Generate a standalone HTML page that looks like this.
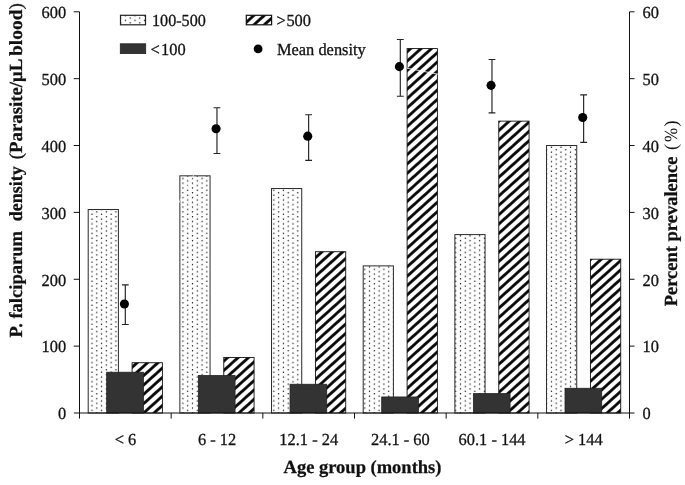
<!DOCTYPE html>
<html><head><meta charset="utf-8"><title>chart</title>
<style>
html,body{margin:0;padding:0;background:#fff;}
svg{display:block;will-change:transform;}
text{font-family:"Liberation Serif",serif;fill:#111;text-rendering:geometricPrecision;}
.n{font-size:16.4px;stroke:#111;stroke-width:0.3px;}
.b{font-size:18.5px;font-weight:bold;stroke:#111;stroke-width:0.25px;}
.r{font-size:18.5px;}
</style></head><body>
<svg width="685" height="485" viewBox="0 0 685 485">
<defs>
<pattern id="dots" patternUnits="userSpaceOnUse" x="89.607" y="213.104" width="9.571" height="4.785">
<rect x="1.793" y="0.596" width="1.2" height="1.2" fill="#000"/>
<rect x="6.578" y="2.989" width="1.2" height="1.2" fill="#000"/>
</pattern>
<pattern id="dotsL" patternUnits="userSpaceOnUse" x="123.007" y="14.504" width="9.571" height="4.785">
<rect x="1.793" y="0.596" width="1.2" height="1.2" fill="#000"/>
<rect x="6.578" y="2.989" width="1.2" height="1.2" fill="#000"/>
</pattern>
<pattern id="h0" patternUnits="userSpaceOnUse" width="20" height="6.95" patternTransform="translate(162.5,377.3) rotate(-42) translate(0,-3.475)">
<rect width="20" height="6.95" fill="#fff"/>
<rect x="0" y="2.100" width="20" height="2.75" fill="#000"/>
</pattern>
<pattern id="h1" patternUnits="userSpaceOnUse" width="20" height="6.95" patternTransform="translate(253.9,371.4) rotate(-42) translate(0,-3.475)">
<rect width="20" height="6.95" fill="#fff"/>
<rect x="0" y="2.100" width="20" height="2.75" fill="#000"/>
</pattern>
<pattern id="h2" patternUnits="userSpaceOnUse" width="20" height="6.95" patternTransform="translate(315.3,267.2) rotate(-42) translate(0,-3.475)">
<rect width="20" height="6.95" fill="#fff"/>
<rect x="0" y="2.100" width="20" height="2.75" fill="#000"/>
</pattern>
<pattern id="h3" patternUnits="userSpaceOnUse" width="20" height="6.95" patternTransform="translate(407.5,98.2) rotate(-42) translate(0,-3.475)">
<rect width="20" height="6.95" fill="#fff"/>
<rect x="0" y="2.100" width="20" height="2.75" fill="#000"/>
</pattern>
<pattern id="h4" patternUnits="userSpaceOnUse" width="20" height="6.95" patternTransform="translate(498.8,139.9) rotate(-42) translate(0,-3.475)">
<rect width="20" height="6.95" fill="#fff"/>
<rect x="0" y="2.100" width="20" height="2.75" fill="#000"/>
</pattern>
<pattern id="h5" patternUnits="userSpaceOnUse" width="20" height="6.95" patternTransform="translate(590.4,278.4) rotate(-42) translate(0,-3.475)">
<rect width="20" height="6.95" fill="#fff"/>
<rect x="0" y="2.100" width="20" height="2.75" fill="#000"/>
</pattern>
<pattern id="hL" patternUnits="userSpaceOnUse" width="20" height="6.95" patternTransform="translate(254.6,14.8) rotate(-42) translate(0,-3.475)">
<rect width="20" height="6.95" fill="#fff"/>
<rect x="0" y="2.100" width="20" height="2.75" fill="#000"/>
</pattern>
</defs>
<rect width="685" height="485" fill="#fff"/>

<rect x="88.20" y="209.52" width="30.2" height="203.48" fill="url(#dots)" stroke="#2a2a2a" stroke-width="1"/>
<rect x="132.10" y="362.72" width="30.3" height="50.28" fill="url(#h0)" stroke="#111" stroke-width="0.9"/>
<rect x="106.70" y="372.21" width="36.7" height="40.79" fill="#333" stroke="#222" stroke-width="0.8"/>
<rect x="179.87" y="175.82" width="30.2" height="237.18" fill="url(#dots)" stroke="#2a2a2a" stroke-width="1"/>
<rect x="223.77" y="357.43" width="30.3" height="55.57" fill="url(#h1)" stroke="#111" stroke-width="0.9"/>
<rect x="198.37" y="375.55" width="36.7" height="37.45" fill="#333" stroke="#222" stroke-width="0.8"/>
<rect x="271.53" y="188.53" width="30.2" height="224.47" fill="url(#dots)" stroke="#2a2a2a" stroke-width="1"/>
<rect x="315.43" y="251.72" width="30.3" height="161.28" fill="url(#h2)" stroke="#111" stroke-width="0.9"/>
<rect x="290.03" y="384.25" width="36.7" height="28.75" fill="#333" stroke="#222" stroke-width="0.8"/>
<rect x="363.20" y="265.89" width="30.2" height="147.11" fill="url(#dots)" stroke="#2a2a2a" stroke-width="1"/>
<rect x="407.10" y="48.58" width="30.3" height="364.42" fill="url(#h3)" stroke="#111" stroke-width="0.9"/>
<rect x="381.70" y="396.95" width="36.7" height="16.05" fill="#333" stroke="#222" stroke-width="0.8"/>
<rect x="454.87" y="234.60" width="30.2" height="178.40" fill="url(#dots)" stroke="#2a2a2a" stroke-width="1"/>
<rect x="498.77" y="121.13" width="30.3" height="291.87" fill="url(#h4)" stroke="#111" stroke-width="0.9"/>
<rect x="473.37" y="393.61" width="36.7" height="19.39" fill="#333" stroke="#222" stroke-width="0.8"/>
<rect x="546.53" y="145.53" width="30.2" height="267.47" fill="url(#dots)" stroke="#2a2a2a" stroke-width="1"/>
<rect x="590.43" y="259.21" width="30.3" height="153.79" fill="url(#h5)" stroke="#111" stroke-width="0.9"/>
<rect x="565.03" y="388.26" width="36.7" height="24.74" fill="#333" stroke="#222" stroke-width="0.8"/>
<path d="M407,68.2 L438,74.2" stroke="#fff" stroke-width="0.8" fill="none"/>
<path d="M178.6,203.2 L194.3,173.7" stroke="#fff" stroke-width="0.7" fill="none"/>
<path d="M79.5,11.8 V418.6 M629.5,11.8 V418.6 M73.9,413.0 H634.5" stroke="#111" stroke-width="1.0" fill="none"/>
<text class="n" style="font-size:16.9px" transform="translate(66.2,419.3) scale(0.9704,1)" text-anchor="end">0</text>
<text class="n" style="font-size:16.9px" transform="translate(642.6,419.3) scale(0.9704,1)">0</text>
<path d="M73.7,346.13 H79.5 M629.5,346.13 H634.5" stroke="#111" stroke-width="1.0" fill="none"/>
<text class="n" style="font-size:16.9px" transform="translate(66.2,352.43) scale(0.9704,1)" text-anchor="end">100</text>
<text class="n" style="font-size:16.9px" transform="translate(642.6,352.43) scale(0.9704,1)">10</text>
<path d="M73.7,279.27 H79.5 M629.5,279.27 H634.5" stroke="#111" stroke-width="1.0" fill="none"/>
<text class="n" style="font-size:16.9px" transform="translate(66.2,285.57) scale(0.9704,1)" text-anchor="end">200</text>
<text class="n" style="font-size:16.9px" transform="translate(642.6,285.57) scale(0.9704,1)">20</text>
<path d="M73.7,212.40 H79.5 M629.5,212.40 H634.5" stroke="#111" stroke-width="1.0" fill="none"/>
<text class="n" style="font-size:16.9px" transform="translate(66.2,218.7) scale(0.9704,1)" text-anchor="end">300</text>
<text class="n" style="font-size:16.9px" transform="translate(642.6,218.7) scale(0.9704,1)">30</text>
<path d="M73.7,145.53 H79.5 M629.5,145.53 H634.5" stroke="#111" stroke-width="1.0" fill="none"/>
<text class="n" style="font-size:16.9px" transform="translate(66.2,151.83) scale(0.9704,1)" text-anchor="end">400</text>
<text class="n" style="font-size:16.9px" transform="translate(642.6,151.83) scale(0.9704,1)">40</text>
<path d="M73.7,78.67 H79.5 M629.5,78.67 H634.5" stroke="#111" stroke-width="1.0" fill="none"/>
<text class="n" style="font-size:16.9px" transform="translate(66.2,84.97) scale(0.9704,1)" text-anchor="end">500</text>
<text class="n" style="font-size:16.9px" transform="translate(642.6,84.97) scale(0.9704,1)">50</text>
<path d="M73.7,11.80 H79.5 M629.5,11.80 H634.5" stroke="#111" stroke-width="1.0" fill="none"/>
<text class="n" style="font-size:16.9px" transform="translate(66.2,18.1) scale(0.9704,1)" text-anchor="end">600</text>
<text class="n" style="font-size:16.9px" transform="translate(642.6,18.1) scale(0.9704,1)">60</text>
<path d="M171.17,413.0 V418.6" stroke="#111" stroke-width="1.0" fill="none"/>
<path d="M262.83,413.0 V418.6" stroke="#111" stroke-width="1.0" fill="none"/>
<path d="M354.50,413.0 V418.6" stroke="#111" stroke-width="1.0" fill="none"/>
<path d="M446.17,413.0 V418.6" stroke="#111" stroke-width="1.0" fill="none"/>
<path d="M537.83,413.0 V418.6" stroke="#111" stroke-width="1.0" fill="none"/>
<text class="n" style="font-size:16.9px" transform="translate(125.4,444.8) scale(0.9704,1)" text-anchor="middle">&lt; 6</text>
<text class="n" style="font-size:16.9px" transform="translate(217.07,444.8) scale(0.9704,1)" text-anchor="middle">6 - 12</text>
<text class="n" style="font-size:16.9px" transform="translate(308.73,444.8) scale(0.9704,1)" text-anchor="middle">12.1 - 24</text>
<text class="n" style="font-size:16.9px" transform="translate(400.4,444.8) scale(0.9704,1)" text-anchor="middle">24.1 - 60</text>
<text class="n" style="font-size:16.9px" transform="translate(492.07,444.8) scale(0.9704,1)" text-anchor="middle">60.1 - 144</text>
<text class="n" style="font-size:16.9px" transform="translate(583.73,444.8) scale(0.9704,1)" text-anchor="middle">&gt; 144</text>
<path d="M125.30,284.9 V324.5 M121.90,284.9 h6.8 M121.90,324.5 h6.8" stroke="#222" stroke-width="1.15" fill="none"/>
<circle cx="124.40" cy="304.01" r="4.55" fill="#000"/>
<path d="M216.97,107.7 V153.5 M213.57,107.7 h6.8 M213.57,153.5 h6.8" stroke="#222" stroke-width="1.15" fill="none"/>
<circle cx="216.07" cy="128.82" r="4.55" fill="#000"/>
<path d="M308.63,114.7 V160.3 M305.23,114.7 h6.8 M305.23,160.3 h6.8" stroke="#222" stroke-width="1.15" fill="none"/>
<circle cx="307.73" cy="136.17" r="4.55" fill="#000"/>
<path d="M400.30,39.5 V96.2 M396.90,39.5 h6.8 M396.90,96.2 h6.8" stroke="#222" stroke-width="1.15" fill="none"/>
<circle cx="399.40" cy="66.63" r="4.55" fill="#000"/>
<path d="M491.97,59.5 V112.9 M488.57,59.5 h6.8 M488.57,112.9 h6.8" stroke="#222" stroke-width="1.15" fill="none"/>
<circle cx="491.07" cy="85.35" r="4.55" fill="#000"/>
<path d="M583.63,94.8 V142.3 M580.23,94.8 h6.8 M580.23,142.3 h6.8" stroke="#222" stroke-width="1.15" fill="none"/>
<circle cx="582.73" cy="117.45" r="4.55" fill="#000"/>
<rect x="120.5" y="15.3" width="25.0" height="9.5" fill="url(#dotsL)" stroke="#222" stroke-width="1.2"/>
<rect x="120.3" y="43.8" width="25.4" height="9.8" fill="#333" stroke="#222" stroke-width="0.8"/>
<rect x="246.3" y="15.3" width="25.3" height="9.5" fill="url(#hL)" stroke="#111" stroke-width="1.2"/>
<circle cx="258.1" cy="48.9" r="4.4" fill="#000"/>
<text class="n" style="font-size:16.9px" transform="translate(152,26.1) scale(0.9556,1)">100-500</text>
<text class="n" style="font-size:16.9px" transform="translate(150.6,54.8) scale(0.9704,1)">&lt;</text>
<text class="n" style="font-size:16.9px" transform="translate(185.6,54.8) scale(0.9704,1)" text-anchor="end">100</text>
<text class="n" style="font-size:16.9px" transform="translate(276.6,26.0) scale(0.9704,1)">&gt;</text>
<text class="n" style="font-size:16.9px" transform="translate(311,26.0) scale(0.9704,1)" text-anchor="end">500</text>
<text class="n" style="font-size:16.9px" transform="translate(277,54.8) scale(0.9704,1)">Mean density</text>
<text class="b" x="362.5" y="473.3" text-anchor="middle">Age group (months)</text>
<text class="b" transform="translate(22,337.4) rotate(-90) scale(1.0,1)">P.</text>
<text class="b" transform="translate(22,318.6) rotate(-90) scale(1.003,1)">falciparum</text>
<text class="b" transform="translate(22,221.2) rotate(-90) scale(0.972,1)">density</text>
<text class="b" transform="translate(22,159.2) rotate(-90) scale(1.016,1)"><tspan style="font-weight:normal">(</tspan>Parasite/μL</text>
<text class="b" transform="translate(22,56.0) rotate(-90) scale(1.05,1)">blood<tspan style="font-weight:normal">)</tspan></text>
<text class="b" transform="translate(676.7,306.3) rotate(-90) scale(1.0,1)">Percent prevalence</text>
<text class="r" transform="translate(676.7,149.9) rotate(-90) scale(1.0,1)">(</text>
<text class="r" transform="translate(676.7,142.0) rotate(-90) scale(0.92,1)">%</text>
<text class="r" transform="translate(676.7,126.4) rotate(-90) scale(1.0,1)">)</text>
</svg></body></html>
